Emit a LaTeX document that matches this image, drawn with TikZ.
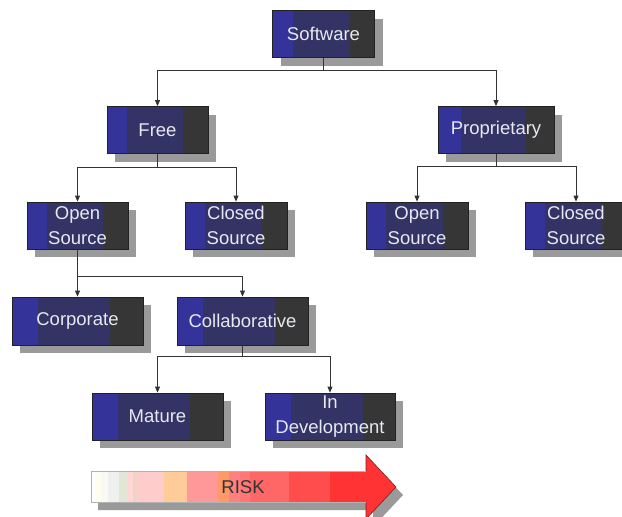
\documentclass[tikz,border=0pt]{standalone}
\usepackage{fontspec}
\setmainfont{Liberation Sans}
\usetikzlibrary{arrows.meta,calc,shadows}
\definecolor{bandleft}{HTML}{333399}
\definecolor{bandmid}{HTML}{333366}
\definecolor{bandright}{HTML}{363636}
\definecolor{boxedge}{HTML}{222222}
\definecolor{boxtext}{HTML}{E8E8F0}
\definecolor{shadowgray}{HTML}{9A9A9A}
\definecolor{linegray}{HTML}{333333}
\definecolor{headred}{HTML}{FF3333}
\definecolor{headedge}{HTML}{7A2020}

\begin{document}
\begin{tikzpicture}[x=1pt,y=-1pt,
  box/.style={draw=boxedge,line width=0.8pt,inner sep=0pt,minimum height=47,align=center,text=boxtext,font=\fontsize{18.5}{25}\selectfont,
    drop shadow={shadow xshift=8pt,shadow yshift=-8pt,fill=shadowgray,opacity=1},
    path picture={
      \fill[bandmid] (path picture bounding box.south west) rectangle (path picture bounding box.north east);
      \fill[bandleft] let \p1=(path picture bounding box.south west),\p2=(path picture bounding box.north east) in (\p1) rectangle ({\x1+0.2*(\x2-\x1)},\y2);
      \fill[bandright] let \p1=(path picture bounding box.south west),\p2=(path picture bounding box.north east) in ({\x1+0.75*(\x2-\x1)},\y1) rectangle (\p2);}},
  conn/.style={-{Triangle[length=6pt,width=5pt]},draw=linegray,line width=0.8pt}]
\useasboundingbox (0,0) rectangle (622,517);
% tree of boxes
\node[box,minimum width=102] (software) at (323.5,34) {Software};
\node[box,minimum width=101] (free) at (157.5,130) {Free};
\node[box,minimum width=116] (proprietary) at (496,130) {Proprietary};
\node[box,minimum width=101] (openL) at (77.5,225.5) {Open\\Source};
\node[box,minimum width=102] (closedL) at (236,225.5) {Closed\\Source};
\node[box,minimum width=102] (openR) at (417,225.5) {Open\\Source};
\node[box,minimum width=102] (closedR) at (576,225.5) {Closed\\Source};
\node[box,minimum width=131,minimum height=48] (corporate) at (77.5,321) {Corporate};
\node[box,minimum width=131,minimum height=48] (collab) at (242.5,321) {Collaborative};
\node[box,minimum width=131] (mature) at (157.5,416.5) {Mature};
\node[box,minimum width=130] (indev) at (330,416.5) {In\\Development};
\draw[conn](software.south)--++(0,12)-|(free);\draw[conn](software.south)--++(0,12)-|(proprietary);
\draw[conn](free.south)--++(0,13)-|(openL);\draw[conn](free.south)--++(0,13)-|(closedL);
\draw[conn](proprietary.south)--++(0,12)-|(openR);\draw[conn](proprietary.south)--++(0,12)-|(closedR);
\draw[conn](openL.south)--++(0,27)-|(corporate);\draw[conn](openL.south)--++(0,27)-|(collab);
\draw[conn](collab.south)--++(0,11)-|(mature);\draw[conn](collab.south)--++(0,11)-|(indev);
% risk arrow
\fill[shadowgray,shift={(7,8)}] (91,471)--(366,471)--(366,455)--(396,487)--(366,519)--(366,502)--(91,502)--cycle;
\foreach \a/\b/\c in {91/96/FFFFFF,96/101/FFFDF0,101/108/FAFAF4,108/119/F0F0F0,119/128/E2E6D4,128/133/FFD6D6,133/137/F2D2C4,137/164/FFCCCC,164/187/FFCC99,187/218/FF9999,218/229/FF9966,229/240/FF8080,240/250/FF7777,250/289/FF6666,289/330/FF4C4C,330/366/FF3333}{
  \definecolor{segcol}{HTML}{\c}
  \fill[segcol] (\a,471) rectangle (\b,502);}
\fill[headred] (366,455)--(396,487)--(366,519)--cycle;
\draw[headedge,line width=0.6pt] (366,471)--(366,455)--(396,487)--(366,519)--(366,502);
\draw[gray!60,line width=0.6pt] (366,471)--(91,471)--(91,502)--(366,502);
\node[text=linegray,font=\fontsize{18.5}{25}\selectfont] (risk) at (243,487) {RISK};
\end{tikzpicture}
\end{document}
